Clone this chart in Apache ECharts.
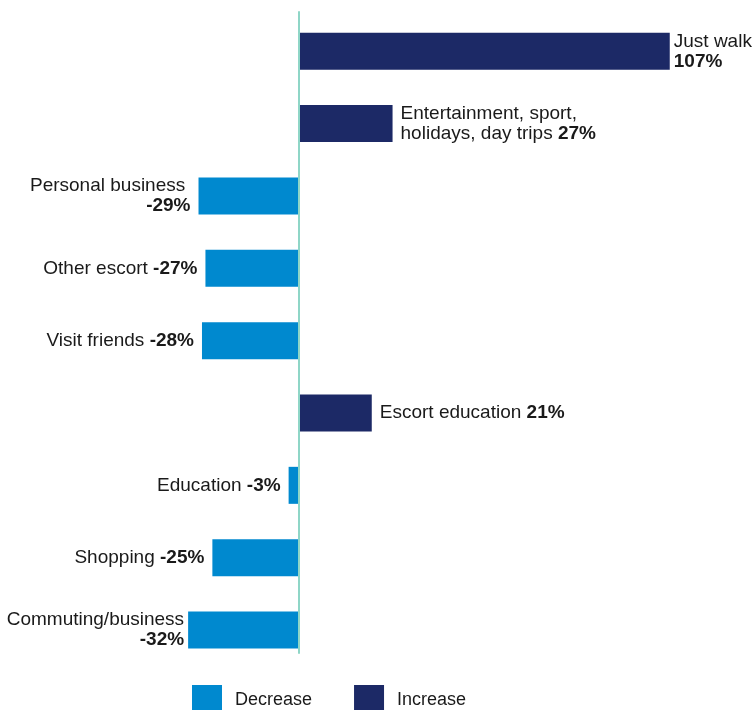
<!DOCTYPE html>
<html>
<head>
<meta charset="utf-8">
<title>Change in trips by purpose</title>
<script src="https://cdn.jsdelivr.net/npm/echarts@6/dist/echarts.min.js"></script>
<style>
  html, body { margin: 0; padding: 0; background: #ffffff; }
  #chart { width: 753px; height: 710px; }
</style>
</head>
<body>
<div id="chart"></div>
<script>
// Trip purposes, top to bottom
const categories = [
  'Just walk',
  'Entertainment, sport,\nholidays, day trips',
  'Personal business ',
  'Other escort',
  'Visit friends',
  'Escort education',
  'Education',
  'Shopping',
  'Commuting/business'
];
// Percentage change per purpose
const changes = [107, 27, -29, -27, -28, 21, -3, -25, -32];
// Whether the value sits on its own line under the name
const valueOnNewLine = [true, false, true, false, false, false, false, false, true];
const seriesNames = ['Decrease', 'Increase'];

const FONT = "'Liberation Sans', Arial, Helvetica, sans-serif";
const TEXT = '#1a1a1a';
const COLOR_DEC = '#0089cf';
const COLOR_INC = '#1c2966';

// Category axis runs top-down, so reverse for ECharts' bottom-up order
const cats = categories.slice().reverse();
const vals = changes.slice().reverse();
const newLine = valueOnNewLine.slice().reverse();

function labelText(i) {
  const v = vals[i];
  const lines = cats[i].split('\n').map(l => '{n|' + l + '}');
  const valTok = '{b|' + v + '%}';
  if (newLine[i]) {
    lines.push(valTok);
  } else {
    lines[lines.length - 1] += '{n| }' + valTok;
  }
  return lines.join('\n');
}

function richFor(align) {
  return {
    n: { fontFamily: FONT, fontSize: 19, color: TEXT, lineHeight: 20, align: align },
    b: { fontFamily: FONT, fontSize: 19, color: TEXT, lineHeight: 20, fontWeight: 'bold', align: align }
  };
}

function seriesData(positive) {
  return vals.map((v, i) => {
    if ((v > 0) !== positive) return '-';
    const edge = (i === 0 || i === vals.length - 1);
    return { value: v, label: { distance: edge ? 4 : 8 } };
  });
}

const X_MIN = -50, X_MAX = 120;

const option = {
  animation: false,
  backgroundColor: '#ffffff',
  textStyle: { fontFamily: FONT },
  grid: [
    { left: 125.75, width: 589.05, top: 15.1, height: 651.1, containLabel: false },
    { left: 125.75, width: 589.05, top: 12, height: 641, containLabel: false }
  ],
  xAxis: [
    { gridIndex: 0, type: 'value', min: X_MIN, max: X_MAX, show: false },
    { gridIndex: 1, type: 'value', min: X_MIN, max: X_MAX, show: true,
      axisLine: { show: false }, axisTick: { show: false }, axisLabel: { show: false },
      splitLine: { show: false } }
  ],
  yAxis: [
    { gridIndex: 0, type: 'category', data: cats, show: false },
    { gridIndex: 1, type: 'value', min: 0, max: 1, z: 5,
      axisLine: { show: true, onZero: true, lineStyle: { color: '#8fd6c7', width: 2 } },
      axisTick: { show: false }, axisLabel: { show: false }, splitLine: { show: false } }
  ],
  legend: {
    left: 187,
    top: 680,
    icon: 'rect',
    itemWidth: 30,
    itemHeight: 30,
    itemGap: 42,
    data: seriesNames,
    textStyle: { fontFamily: FONT, fontSize: 18, color: TEXT, padding: [0, 0, 0, 8] }
  },
  series: [
    {
      name: seriesNames[0],
      type: 'bar',
      stack: 'all',
      xAxisIndex: 0, yAxisIndex: 0,
      barWidth: 37,
      itemStyle: { color: COLOR_DEC },
      data: seriesData(false),
      label: {
        show: true,
        position: 'left',
        align: 'right',
        formatter: p => labelText(p.dataIndex),
        rich: richFor('right')
      }
    },
    {
      name: seriesNames[1],
      type: 'bar',
      stack: 'all',
      xAxisIndex: 0, yAxisIndex: 0,
      barWidth: 37,
      itemStyle: { color: COLOR_INC },
      data: seriesData(true),
      label: {
        show: true,
        position: 'right',
        align: 'left',
        formatter: p => labelText(p.dataIndex),
        rich: richFor('left')
      }
    }
  ]
};

const chart = echarts.init(document.getElementById('chart'), null, { renderer: 'canvas' });
chart.setOption(option);
</script>
</body>
</html>
